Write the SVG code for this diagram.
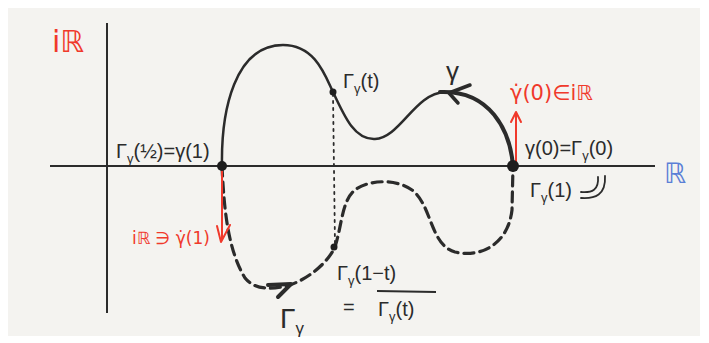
<svg xmlns="http://www.w3.org/2000/svg" width="709" height="343" viewBox="0 0 709 343">
<style>
.t{font-family:"Liberation Sans","DejaVu Sans",sans-serif;fill:#2b2b2b;font-size:20px}
.d{font-family:"DejaVu Sans","Noto Sans",sans-serif}
.r{fill:#f0392b}
.b{fill:#5b7fd6}
.sub{font-size:13px}
.ax{stroke:#2b2b2b;stroke-width:2;fill:none}
.cv{stroke:#2b2b2b;fill:none;stroke-linecap:round;stroke-linejoin:round}
.red{stroke:#f0392b;stroke-width:2;fill:none;stroke-linecap:round;stroke-linejoin:round}
</style>
<rect width="709" height="343" fill="#ffffff"/>
<rect x="8" y="8" width="692" height="328" fill="#f4f3f0"/>
<g id="axes">
<path class="ax" d="M50,166 L655,166"/>
<path class="ax" d="M107,23 L107,313"/>
</g>
<g id="connectors">
<path class="cv" stroke-width="2.5" d="M222,166 C221,110 235,45 283,45 C315,45 325,75 333,92 C345,118 355,140 375,139 C400,138 415,93 445,92"/>
<path class="cv" stroke-width="4" d="M440,92 C490,90 510,130 513,166"/>
<path class="cv" stroke-width="3.5" d="M470,85 L449,93 L458,103"/>
<path class="cv" stroke-width="3.2" stroke-dasharray="10 6" d="M222,166 C224,210 228,250 245,278 C255,290 270,290 290,285 C310,278 328,262 335,247 C342,225 342,200 355,190 C368,180 395,178 412,190 C432,205 430,245 455,252 C480,258 508,245 512,210 L513,166"/>
<path class="cv" stroke-width="4" d="M268,285 L291,284 M278,297 L291,284"/>
<path class="cv" stroke-width="1.8" stroke-dasharray="2 5" d="M333,94 L335,245"/>
<path class="red" d="M516,164 L516,112 M511,122 L516,112 L521,122"/>
<path class="red" d="M222,168 L222,240 M217,226 L221,242 L230,225"/>
<path class="cv" stroke-width="1.8" d="M598,177 C599,190 592,193 581,192 M605,176 C606,195 595,199 581,198"/>
</g>
<g id="points">
<circle cx="222" cy="166" r="5" fill="#1e1e1e"/>
<circle cx="513" cy="166" r="6" fill="#1e1e1e"/>
<circle cx="333" cy="92" r="3.5" fill="#1e1e1e"/>
<circle cx="334" cy="247" r="3.5" fill="#1e1e1e"/>
</g>
<g id="labels">
<text class="t d r" x="52" y="52" style="font-size:30px">iℝ</text>
<text class="t d b" x="664" y="183" style="font-size:28px">ℝ</text>
<text class="t" x="116" y="158">Γ<tspan class="sub" dy="5">γ</tspan><tspan dy="-5">(½)=γ(1)</tspan></text>
<text class="t" x="343" y="88">Γ<tspan class="sub" dy="5">γ</tspan><tspan dy="-5">(t)</tspan></text>
<text class="t" x="446" y="80" style="font-size:26px">γ</text>
<text class="t d r" x="510" y="100" style="font-size:21px">γ̇(0)∈iℝ</text>
<text class="t d r" x="132" y="244" style="font-size:17px">iℝ ∋ γ̇(1)</text>
<text class="t" x="525" y="155">γ(0)=Γ<tspan class="sub" dy="5">γ</tspan><tspan dy="-5">(0)</tspan></text>
<text class="t" x="530" y="197">Γ<tspan class="sub" dy="5">γ</tspan><tspan dy="-5">(1)</tspan></text>
<text class="t" x="337" y="280">Γ<tspan class="sub" dy="5">γ</tspan><tspan dy="-5">(1−t)</tspan></text>
<text class="t" x="343" y="314">=</text>
<path d="M377,291 L436,292" stroke="#2b2b2b" stroke-width="1.8" fill="none"/>
<text class="t" x="378" y="316">Γ<tspan class="sub" dy="5">γ</tspan><tspan dy="-5">(t)</tspan></text>
<text class="t" x="280" y="328" style="font-size:28px">Γ<tspan style="font-size:17px" dy="6">γ</tspan></text>
</g>
</svg>
